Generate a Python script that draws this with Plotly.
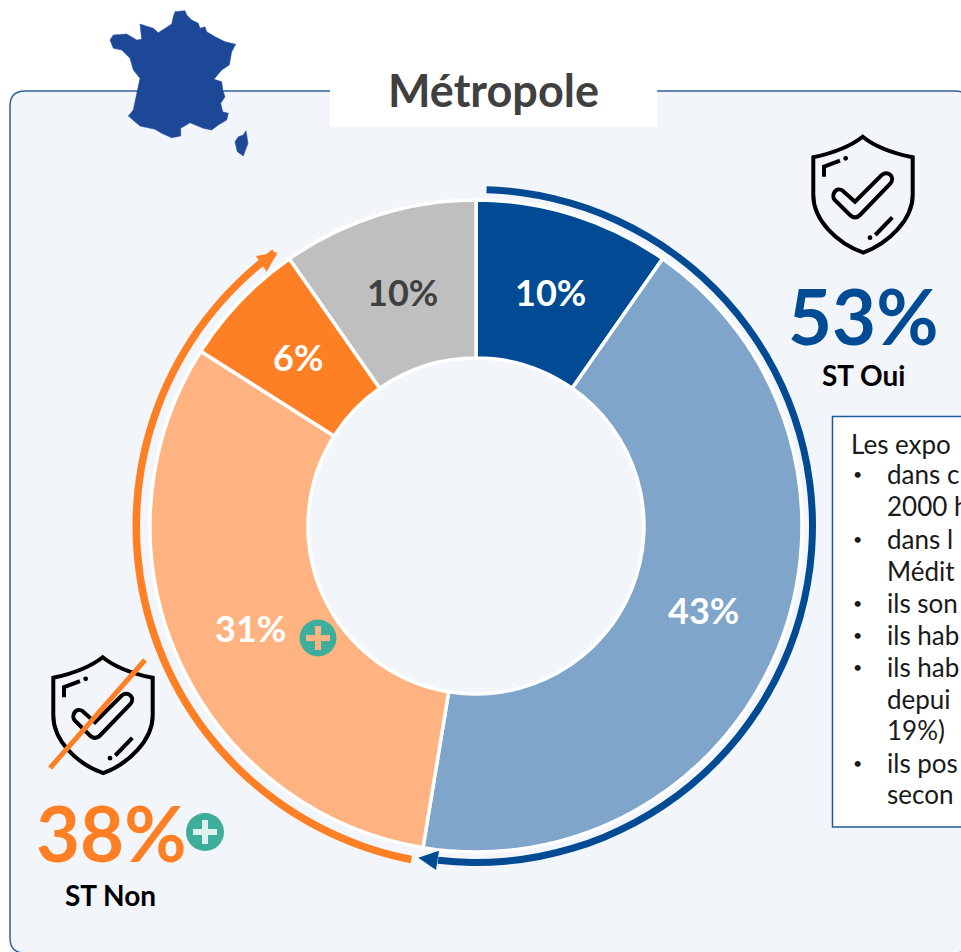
import plotly.graph_objects as go

# ---- data ----
slice_names = ["ST Oui 1", "ST Oui 2", "ST Non 1", "ST Non 2", "Autres"]
slice_values = [9.7, 42.9, 31.4, 6.3, 9.7]
slice_labels = ["10%", "43%", "31%", "6%", "10%"]
slice_colors = ["#004B93", "#7FA5CA", "#FFB380", "#FF7F24", "#BFBFBF"]
label_colors = ["#FFFFFF", "#FFFFFF", "#FFFFFF", "#FFFFFF", "#404040"]
blue_ring_values = [0.5, 51.3, 48.2]
orange_ring_values = [53.05, 36.85, 10.1]
box_lines = ["Les expo", "dans c", "2000 h", "dans l", "Médit", "ils son", "ils hab", "ils hab", "depui", "19%)", "ils pos", "secon"]
box_bullets = [False, True, False, True, False, True, True, True, False, False, True, False]

W, H = 961, 952
FONT = "Lato"
BLUE, ORANGE, TEAL = "#004B93", "#FF7F24", "#3DAE9C"
CX, CY = 476, 526


def dom(r, cx=CX, cy=CY):
    return dict(x=[(cx - r) / W, (cx + r) / W], y=[1 - (cy + r) / H, 1 - (cy - r) / H])


fig = go.Figure()
fig.add_trace(go.Scatter(x=[None], y=[None], showlegend=False, hoverinfo="skip"))
fig.add_trace(go.Pie(
    values=slice_values, labels=slice_names, textinfo="none", sort=False,
    direction="clockwise", rotation=0, hole=168 / 326, domain=dom(326),
    marker=dict(colors=slice_colors, line=dict(color="#FFFFFF", width=3.5)),
    showlegend=False, hoverinfo="skip",
))
CLEAR = "rgba(0,0,0,0)"
fig.add_trace(go.Pie(
    values=blue_ring_values, sort=False, direction="clockwise", rotation=0,
    hole=333 / 340, domain=dom(340), textinfo="none", showlegend=False, hoverinfo="skip",
    marker=dict(colors=[CLEAR, BLUE, CLEAR], line=dict(width=0)),
))
fig.add_trace(go.Pie(
    values=orange_ring_values, sort=False, direction="clockwise", rotation=0,
    hole=336 / 343.5, domain=dom(343.5), textinfo="none", showlegend=False, hoverinfo="skip",
    marker=dict(colors=[CLEAR, ORANGE, CLEAR], line=dict(width=0)),
))

shapes = []
# panel and title backing
shapes.append(dict(type="path", layer="below", xref="x", yref="y",
                   path="M10 106 Q10 91 25 91 L955 91 Q970 91 970 106 L970 938 Q970 953 955 953 L25 953 Q10 953 10 938 Z",
                   fillcolor="#F2F5F9", line=dict(color="#2F6098", width=1.5)))
shapes.append(dict(type="rect", layer="below", xref="x", yref="y", x0=330, x1=657, y0=60, y1=127,
                   fillcolor="#FFFFFF", line=dict(width=0)))
# text box
shapes.append(dict(type="rect", xref="x", yref="y", x0=832.5, x1=975, y0=416.5, y1=827,
                   fillcolor="#FFFFFF", line=dict(color="#1F5A9B", width=1.5)))


def tr(points, ox=90, oy=0):
    return [(ox + px / 3, oy + py / 3) for px, py in points]


def poly(points):
    return "M" + " L".join(f"{x:.1f} {y:.1f}" for x, y in points) + " Z"


france = [(255, 35), (285, 32), (290, 45), (305, 60), (325, 70), (330, 85), (345, 80), (350, 95), (375, 110),
          (405, 125), (437, 133), (425, 155), (418, 195), (395, 210), (372, 238), (395, 245), (398, 270),
          (405, 290), (392, 310), (398, 335), (415, 340), (410, 360), (385, 375), (365, 390), (340, 385),
          (300, 368), (272, 385), (272, 408), (245, 413), (215, 400), (195, 388), (150, 378), (115, 348),
          (130, 330), (150, 235), (130, 210), (120, 175), (95, 150), (70, 145), (60, 120), (70, 105),
          (110, 102), (140, 120), (155, 118), (150, 72), (175, 80), (190, 85), (205, 98), (245, 72), (250, 50)]
corsica = [(468, 392), (474, 430), (460, 468), (442, 455), (435, 425), (445, 410), (460, 405)]
for part in (france, corsica):
    shapes.append(dict(type="path", xref="x", yref="y", path=poly(tr(part)),
                       fillcolor="#1C4897", line=dict(width=0.5, color="#1C4897")))


def shield(ox, oy):
    def f(x, y):
        return f"{ox + x / 3:.1f} {oy + y / 3:.1f}"
    out = []
    body = (f"M{f(308, 50)} C{f(270, 80)} {f(215, 100)} {f(160, 112)} L{f(160, 225)} "
            f"C{f(160, 300)} {f(230, 370)} {f(310, 398)} C{f(385, 370)} {f(458, 300)} {f(458, 225)} "
            f"L{f(458, 112)} C{f(400, 100)} {f(345, 80)} {f(308, 50)} Z")
    check = (f"M{f(224, 240)} C{f(212, 225)} {f(228, 198)} {f(248, 212)} L{f(285, 245)} L{f(365, 165)} "
             f"C{f(385, 150)} {f(408, 172)} {f(390, 192)} L{f(300, 285)} C{f(290, 295)} {f(280, 293)} {f(272, 287)} Z")
    hi1 = f"M{f(192, 170)} L{f(192, 140)} L{f(240, 122)}"
    hi2 = f"M{f(346, 345)} L{f(397, 292)}"
    for p in (body, check, hi1, hi2):
        out.append(dict(type="path", xref="x", yref="y", path=p, line=dict(color="#000000", width=4)))
    for dx, dy in ((257, 115), (330, 353)):
        out.append(dict(type="circle", xref="x", yref="y", x0=ox + dx / 3 - 2.4, x1=ox + dx / 3 + 2.4,
                        y0=oy + dy / 3 - 2.4, y1=oy + dy / 3 + 2.4, fillcolor="#000000", line=dict(width=0)))
    return out


shapes += shield(760, 120)
shapes += shield(0, 640.5)
shapes.append(dict(type="line", xref="x", yref="y", x0=50, y0=768, x1=145, y1=660,
                   line=dict(color=ORANGE, width=5)))
# arrowheads
shapes.append(dict(type="path", xref="x", yref="y", path="M277.7 252.3 L256 256 L266.7 271.7 Z",
                   fillcolor=ORANGE, line=dict(width=0)))
shapes.append(dict(type="path", xref="x", yref="y", path="M418.3 857.7 L439 850.7 L436 870 Z",
                   fillcolor=BLUE, line=dict(width=0)))


def plus(cx, cy, r, color):
    arm, half = 12, 3
    return [
        dict(type="circle", xref="x", yref="y", x0=cx - r, x1=cx + r, y0=cy - r, y1=cy + r,
             fillcolor=TEAL, line=dict(width=0)),
        dict(type="rect", xref="x", yref="y", x0=cx - arm, x1=cx + arm, y0=cy - half, y1=cy + half,
             fillcolor=color, line=dict(width=0)),
        dict(type="rect", xref="x", yref="y", x0=cx - half, x1=cx + half, y0=cy - arm, y1=cy + arm,
             fillcolor=color, line=dict(width=0)),
    ]


shapes += plus(318, 638, 18.5, "#FFB380")
shapes += plus(205, 832, 19, "#DDF1EE")

annotations = []


def note(text, x, y, size, color, bold=True, anchor="center"):
    t = f"<b>{text}</b>" if bold else text
    annotations.append(dict(text=t, x=x, y=y, xref="x", yref="y", showarrow=False, xanchor=anchor,
                            yanchor="middle", font=dict(family=FONT, size=size, color=color)))


note("Métropole", 493, 90, 45, "#404040")
note("53%", 863, 315, 76, BLUE)
note("ST Oui", 863, 375, 28, "#000000")
note("38%", 111, 832, 76, ORANGE)
note("ST Non", 110, 895, 28, "#000000")

label_spots = [(550, 292), (703, 610), (250, 628), (298, 357), (402, 292)]
for lab, col, (lx, ly) in zip(slice_labels, label_colors, label_spots):
    note(lab, lx, ly, 36, col)

line_ys = [444, 474, 506, 539, 571, 603, 635, 667, 699, 730, 763, 794]
for i, (line, bullet, ly) in enumerate(zip(box_lines, box_bullets, line_ys)):
    note(line, 849 if i == 0 else 885, ly, 26, "#1A1A1A", bold=False, anchor="left")
    if bullet:
        note("•", 851, ly - 1, 16, "#1A1A1A", bold=False, anchor="left")

fig.update_layout(
    width=W, height=H, margin=dict(l=0, r=0, t=0, b=0, pad=0), autosize=False,
    paper_bgcolor="#FFFFFF", plot_bgcolor="rgba(0,0,0,0)", showlegend=False,
    xaxis=dict(visible=False, range=[0, W], domain=[0, 1], fixedrange=True),
    yaxis=dict(visible=False, range=[H, 0], domain=[0, 1], fixedrange=True),
    shapes=shapes, annotations=annotations,
)

fig.write_html("out.html", config=dict(displayModeBar=False),
               post_script="document.body.style.margin='0';document.body.style.overflow='hidden';")
